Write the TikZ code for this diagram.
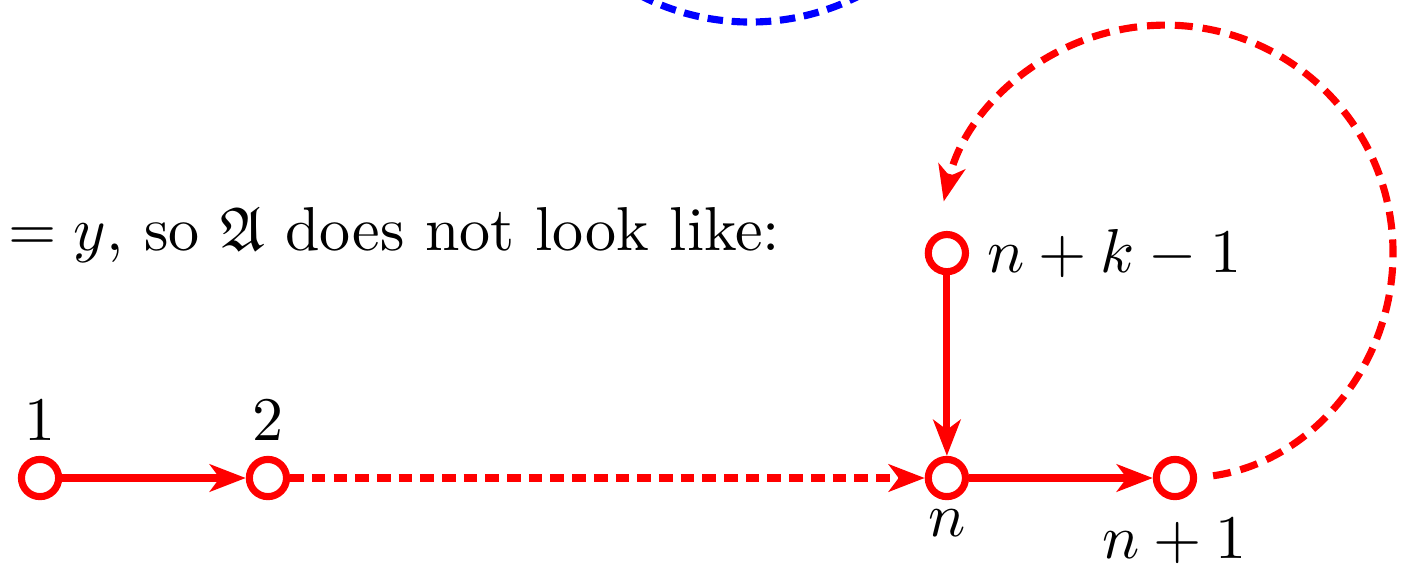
\documentclass[tikz,border=0pt]{standalone}
\usepackage{amsmath}
\usepackage{amssymb}
\usepackage{tikz}
\usetikzlibrary{arrows.meta}
\tikzset{
	vert/.style     ={circle, draw=red, line width=1.15pt, fill=white, minimum size=6pt, inner sep=0pt},
	lbl/.style      ={inner sep=0pt},
	sig/.style      ={-{Stealth[length=5.8pt, width=4.4pt, inset=1.6pt]}, red, line width=1.15pt},
	sigdash/.style  ={sig, dash pattern=on 2.2pt off 1.3pt},
	loopdash/.style ={sig, dash pattern=on 2.9pt off 1.6pt},
	bluedash/.style ={blue, line width=1.15pt, dash pattern=on 2.5pt off 1.4pt},
}

\begin{document}
\begin{tikzpicture}
	\useasboundingbox (0,0) rectangle (7.948,3.192);
	\clip (0,0) rectangle (7.948,3.192);
	% part of the loop above
	\draw[bluedash] (4.252,4.427) circle (1.36);
	\node[lbl, anchor=base west] (txt) at (0.04,1.774) {$= y$, so $\mathfrak{A}$ does not look like:};
	% the chain
	\node[vert, label={[lbl, label distance=2.2pt]above:$1$}] (v1) at (0.227,0.482) {};
	\node[vert, label={[lbl, label distance=2.2pt]above:$2$}] (v2) at (1.519,0.482) {};
	\node[vert, label={[lbl, label distance=1.3pt]below:$n$}] (vn) at (5.368,0.482) {};
	\node[vert, label={[lbl, label distance=2.7pt]below:$n+1$}] (vn1) at (6.661,0.482) {};
	\node[vert, label={[lbl, label distance=2.7pt]right:$n+k-1$}] (vk) at (5.368,1.757) {};
	\draw[sig] (v1) -- (v2);
	\draw[sigdash] (v2) -- (vn);
	\draw[sig] (vk) -- (vn);
	\draw[sig] (vn) -- (vn1);
	\draw[loopdash, shorten <=2.6pt] (vn1.east) arc[start angle=-82, end angle=167, radius=1.29];
\end{tikzpicture}
\end{document}
